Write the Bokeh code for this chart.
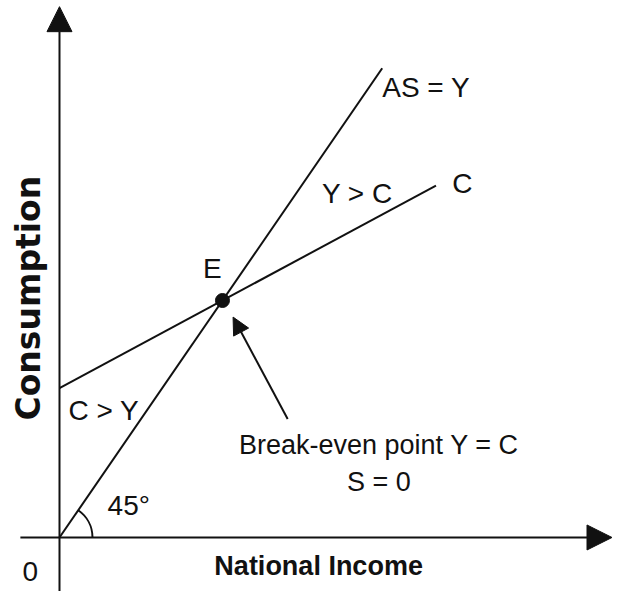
import math
from bokeh.plotting import figure
from bokeh.models import Arrow, NormalHead
from bokeh.core.properties import value
from bokeh.embed import file_html
from bokeh.resources import INLINE

# ---- data (economic units; E = break-even point) ----
as_income = [0, 198]           # 45-degree line AS = Y
as_spending = [0, 198]
c_income = [0, 231]            # consumption function C = a + bY
c_consumption = [63, 148.5]
e_income = [100]
e_consumption = [100]

# labels: text, x, y
line_labels = ["AS = Y", "Y > C", "C", "E", "C > Y", "45°"]
line_label_x = [198, 161, 241, 88, 5.5, 29.5]
line_label_y = [190, 145, 149.5, 113.5, 53.5, 13.3]

note_labels = ["Break-even point Y = C", "S = 0"]
note_x = [196, 196]
note_y = [39, 23.5]

W, H = 619, 591
X0, X1 = -36.2, 343.6
Y0, Y1 = -22.8, 226.6

p = figure(width=W, height=H, x_range=(X0, X1), y_range=(Y0, Y1),
           output_backend="svg", toolbar_location=None, min_border=0)
p.axis.visible = False
p.grid.visible = False
p.outline_line_color = None
p.background_fill_color = "white"
p.border_fill_color = "white"

INK = "#111111"
SANS = value("Liberation Sans")

# axes with filled arrow heads
p.add_layout(Arrow(end=NormalHead(size=25, fill_color=INK, line_color=INK),
                   x_start=-24, y_start=0, x_end=339, y_end=0,
                   line_width=2, line_color=INK))
p.add_layout(Arrow(end=NormalHead(size=25, fill_color=INK, line_color=INK),
                   x_start=0, y_start=Y0, x_end=0, y_end=224,
                   line_width=2, line_color=INK))

# lines
p.line(as_income, as_spending, line_width=2, line_color=INK)
p.line(c_income, c_consumption, line_width=2, line_color=INK)
p.scatter(e_income, e_consumption, size=14, fill_color=INK, line_color=INK)

# 45 degree arc (screen angle of the AS line)
sx = W / (X1 - X0)
sy = H / (Y1 - Y0)
ang = math.atan2((as_spending[1] - as_spending[0]) * sy, (as_income[1] - as_income[0]) * sx)
p.arc(x=[0], y=[0], radius=33, radius_units="screen", start_angle=0, end_angle=ang,
      line_width=2, line_color=INK)

# arrow pointing to E
p.add_layout(Arrow(end=NormalHead(size=17, fill_color=INK, line_color=INK),
                   x_start=140, y_start=50, x_end=e_income[0] + 6.5, y_end=e_consumption[0] - 7,
                   line_width=2, line_color=INK))

p.text(x=line_label_x, y=line_label_y, text=line_labels, text_font=SANS,
       text_font_size="28px", text_color=INK, text_align="left", text_baseline="alphabetic")
p.text(x=note_x, y=note_y, text=note_labels, text_font=SANS,
       text_font_size="27px", text_color=INK, text_align="center", text_baseline="alphabetic")
p.text(x=[-22.7], y=[-14.3], text=["0"], text_font=SANS,
       text_font_size="28px", text_color=INK, text_align="left", text_baseline="alphabetic")

# axis titles
p.text(x=[159], y=[-12], text=["National Income"], text_font=SANS,
       text_font_style="bold", text_font_size="27px", text_color=INK,
       text_align="center", text_baseline="alphabetic")
p.text(x=[-19], y=[101], text=["Consumption"], text_font=value("DejaVu Sans"),
       text_font_style="bold", text_font_size="33px", text_color=INK, angle=math.pi / 2,
       text_align="center", text_baseline="middle")

open("out.html", "w").write(file_html(p, INLINE))
